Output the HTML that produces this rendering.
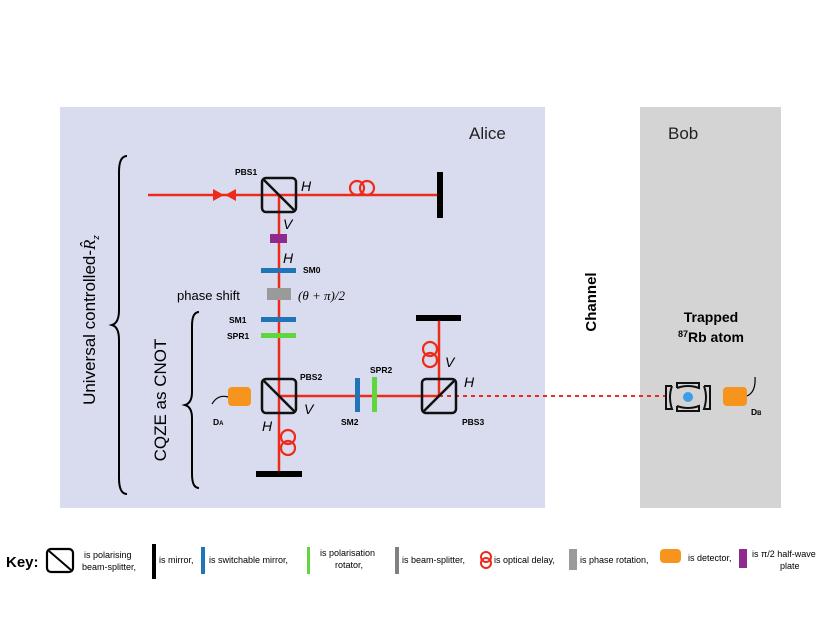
<!DOCTYPE html>
<html><head><meta charset="utf-8"><style>
body{margin:0;background:#fff;}
svg{display:block;font-family:"Liberation Sans",sans-serif;}
</style></head><body>
<svg width="830" height="623" viewBox="0 0 830 623" xmlns="http://www.w3.org/2000/svg">
<rect x="60" y="107" width="485" height="401" fill="#d9dcee"/>
<rect x="640" y="107" width="141" height="401" fill="#d4d4d4"/>
<text x="469" y="139" font-size="17" fill="#222">Alice</text>
<text x="668" y="139" font-size="17" fill="#222">Bob</text>
<text transform="translate(596,302) rotate(-90)" font-size="15" font-weight="bold" text-anchor="middle">Channel</text>
<text x="711" y="322" font-size="14" font-weight="bold" text-anchor="middle">Trapped</text>
<text x="711" y="342" font-size="14" font-weight="bold" text-anchor="middle"><tspan font-size="9" dy="-5">87</tspan><tspan dy="5">Rb atom</tspan></text>

<!-- braces -->
<path d="M127,156 Q119,156 119,172 L119,310 Q119,323 112,325 Q119,327 119,340 L119,478 Q119,494 127,494" fill="none" stroke="#000" stroke-width="2"/>
<path d="M199,312 Q192,312 192,326 L192,392 Q192,403 185,405 Q192,407 192,418 L192,474 Q192,488 199,488" fill="none" stroke="#000" stroke-width="2"/>
<text transform="translate(95,320) rotate(-90)" font-size="17" text-anchor="middle">Universal controlled-<tspan font-family="Liberation Serif" font-style="italic">R̂</tspan><tspan font-size="9" font-style="italic" dy="4">z</tspan></text>
<text transform="translate(166,400) rotate(-90)" font-size="17" text-anchor="middle">CQZE as CNOT</text>

<!-- beams -->
<g stroke="#ee2a1b" stroke-width="2.5" fill="none">
<line x1="148" y1="195" x2="440" y2="195"/>
<line x1="279" y1="195" x2="279" y2="474"/>
<line x1="279" y1="396" x2="439" y2="396"/>
<line x1="439" y1="396" x2="439" y2="318"/>
<line x1="439" y1="396" x2="668" y2="396" stroke-dasharray="4,4" stroke-width="2"/>
</g>
<polygon points="213,189 213,201 224,195" fill="#ee2a1b"/>
<polygon points="236,189 236,201 225,195" fill="#ee2a1b"/>
<!-- coils -->
<g fill="none" stroke="#ee2a1b" stroke-width="2.2">
<circle cx="357" cy="188" r="7"/><circle cx="367" cy="188" r="7"/>
<circle cx="288" cy="437" r="7"/><circle cx="288" cy="448" r="7"/>
<circle cx="430" cy="349" r="7"/><circle cx="430" cy="360" r="7"/>
</g>
<!-- mirrors -->
<rect x="437" y="172" width="6" height="46" fill="#000"/>
<rect x="256" y="471" width="46" height="6" fill="#000"/>
<rect x="416" y="315" width="45" height="6" fill="#000"/>
<!-- PBS -->
<g fill="none" stroke="#111" stroke-width="2.5">
<rect x="262" y="178" width="34" height="34" rx="4"/><line x1="264" y1="180" x2="294" y2="210"/>
<rect x="262" y="379" width="34" height="34" rx="4"/><line x1="264" y1="381" x2="294" y2="411"/>
<rect x="422" y="379" width="34" height="34" rx="4"/><line x1="424" y1="411" x2="454" y2="381"/>
</g>
<!-- elements -->
<rect x="270" y="234" width="17" height="9" fill="#8e2a8e"/>
<rect x="261" y="268" width="35" height="5" fill="#1f75b8"/>
<rect x="267" y="288" width="24" height="12" fill="#9a9a9a"/>
<rect x="261" y="317" width="35" height="5" fill="#1f75b8"/>
<rect x="261" y="333" width="35" height="5" fill="#5ed63c"/>
<rect x="355" y="378" width="5" height="34" fill="#1f75b8"/>
<rect x="372" y="377" width="5" height="35" fill="#5ed63c"/>
<!-- detector A -->
<path d="M212,404 Q218,394 228,397" fill="none" stroke="#000" stroke-width="1.2"/>
<rect x="228" y="387" width="23" height="19" rx="4" fill="#f7941d"/>
<!-- trap -->
<g fill="none" stroke="#111" stroke-width="2">
<path d="M677,388 L677,383 L699,383 L699,388 Q688,384 677,388"/>
<path d="M677,406 L677,411 L699,411 L699,406 Q688,410 677,406"/>
<path d="M672,386 L666,386 L666,409 L672,409 Q668,397 672,386"/>
<path d="M704,386 L710,386 L710,409 L704,409 Q708,397 704,386"/>
</g>
<circle cx="688" cy="397" r="5" fill="#3a9ee8"/>
<rect x="723" y="387" width="24" height="19" rx="4" fill="#f7941d"/>
<path d="M747,396 Q756,392 755,377" fill="none" stroke="#000" stroke-width="1.2"/>
<!-- labels -->
<g font-size="8.5" font-weight="bold">
<text x="235" y="175">PBS1</text>
<text x="303" y="273">SM0</text>
<text x="229" y="323">SM1</text>
<text x="227" y="339">SPR1</text>
<text x="300" y="380">PBS2</text>
<text x="370" y="373">SPR2</text>
<text x="341" y="425">SM2</text>
<text x="462" y="425">PBS3</text>
<text x="213" y="425">D<tspan font-size="6">A</tspan></text>
<text x="751" y="415">D<tspan font-size="6">B</tspan></text>
</g>
<g font-size="14" font-style="italic">
<text x="301" y="191">H</text><text x="283" y="229">V</text><text x="283" y="263">H</text>
<text x="304" y="414">V</text><text x="262" y="431">H</text><text x="445" y="367">V</text><text x="464" y="387">H</text>
</g>
<text x="177" y="300" font-size="13">phase shift</text>
<text x="298" y="300" font-size="13" font-family="Liberation Serif" font-style="italic">(θ + π)/2</text>

<!-- key -->
<text x="6" y="567" font-size="15" font-weight="bold">Key:</text>
<rect x="47" y="549" width="26" height="23" rx="4" fill="none" stroke="#000" stroke-width="2.2"/>
<line x1="49" y1="551" x2="71" y2="570" stroke="#000" stroke-width="2"/>
<g font-size="9">
<text x="84" y="558">is polarising</text><text x="82" y="570">beam-splitter,</text>
<rect x="152" y="544" width="4" height="35" fill="#000"/>
<text x="159" y="563">is mirror,</text>
<rect x="201" y="547" width="4" height="27" fill="#1f75b8"/>
<text x="209" y="563">is switchable mirror,</text>
<rect x="307" y="547" width="3" height="27" fill="#5ed63c"/>
<text x="320" y="556">is polarisation</text><text x="335" y="568">rotator,</text>
<rect x="395" y="547" width="4" height="27" fill="#808080"/>
<text x="402" y="563">is beam-splitter,</text>
<g fill="none" stroke="#ee2a1b" stroke-width="2"><circle cx="486" cy="557" r="5"/><circle cx="486" cy="563" r="5"/></g>
<text x="494" y="563">is optical delay,</text>
<rect x="569" y="549" width="8" height="21" fill="#9a9a9a"/>
<text x="580" y="563">is phase rotation,</text>
<rect x="660" y="549" width="21" height="14" rx="4" fill="#f7941d"/>
<text x="688" y="561">is detector,</text>
<rect x="739" y="549" width="8" height="19" fill="#8e2a8e"/>
<text x="752" y="557">is π/2 half-wave</text><text x="780" y="569">plate</text>
</g>
</svg>
</body></html>
